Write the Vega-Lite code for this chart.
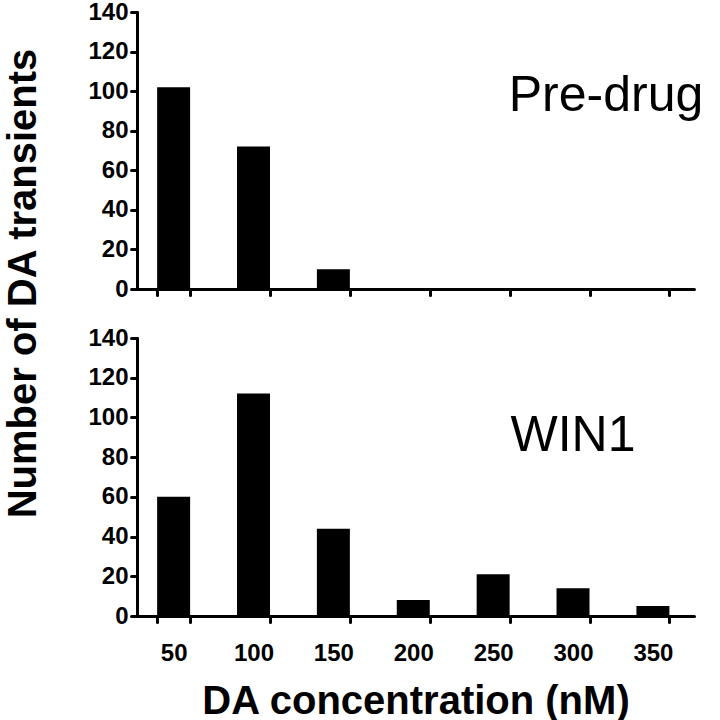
{
  "$schema": "https://vega.github.io/schema/vega-lite/v6.json",
  "background": "white",
  "padding": {"left": 3, "top": 0, "right": 0, "bottom": 0},
  "bounds": "flush",
  "spacing": 49,
  "config": {
    "view": {"stroke": null},
    "font": "Liberation Sans",
    "axis": {
      "grid": false,
      "domainColor": "black",
      "domainWidth": 3,
      "domainCap": "round",
      "tickColor": "black",
      "tickWidth": 3,
      "tickSize": 6,
      "tickCap": "round",
      "labelFont": "Liberation Sans",
      "labelFontWeight": "bold",
      "labelFontSize": 24,
      "labelColor": "black",
      "titleFont": "Liberation Sans",
      "titleFontWeight": "bold",
      "titleFontSize": 40,
      "titleColor": "black"
    }
  },
  "datasets": {
    "bars": [
      {"panel": "Pre-drug", "conc": 50, "count": 102},
      {"panel": "Pre-drug", "conc": 100, "count": 72},
      {"panel": "Pre-drug", "conc": 150, "count": 10},
      {"panel": "Pre-drug", "conc": 200, "count": 0},
      {"panel": "Pre-drug", "conc": 250, "count": 0},
      {"panel": "Pre-drug", "conc": 300, "count": 0},
      {"panel": "Pre-drug", "conc": 350, "count": 0},
      {"panel": "WIN1", "conc": 50, "count": 60},
      {"panel": "WIN1", "conc": 100, "count": 112},
      {"panel": "WIN1", "conc": 150, "count": 44},
      {"panel": "WIN1", "conc": 200, "count": 8},
      {"panel": "WIN1", "conc": 250, "count": 21},
      {"panel": "WIN1", "conc": 300, "count": 14},
      {"panel": "WIN1", "conc": 350, "count": 5}
    ],
    "labels": [
      {"panel": "Pre-drug", "conc": 300, "count": 90, "label": "Pre-drug"},
      {"panel": "WIN1", "conc": 300, "count": 83, "label": "WIN1"}
    ]
  },
  "vconcat": [
    {
      "width": 557,
      "height": 277,
      "encoding": {
        "x": {"field": "conc", "type": "ordinal",
              "scale": {"paddingInner": 0.587, "paddingOuter": 0.28, "align": 0.45},
              "axis": {"labels": false, "title": null, "tickBand": "extent"}},
        "y": {"field": "count", "type": "quantitative",
              "scale": {"domain": [0, 140], "nice": false},
              "axis": {"values": [0, 20, 40, 60, 80, 100, 120, 140], "title": null, "labelPadding": 3, "labelOverlap": false, "labelBound": false, "labelFlush": false}}
      },
      "layer": [
        {
          "data": {"name": "bars"},
          "transform": [{"filter": "datum.panel === 'Pre-drug'"}],
          "mark": {"type": "bar", "color": "black"}
        },
        {
          "data": {"name": "labels"},
          "transform": [{"filter": "datum.panel === 'Pre-drug'"}],
          "mark": {"type": "text", "fontSize": 50, "font": "Liberation Sans", "color": "black", "baseline": "alphabetic", "align": "center", "dx": 33},
          "encoding": {"text": {"field": "label"}}
        }
      ]
    },
    {
      "width": 557,
      "height": 278,
      "encoding": {
        "x": {"field": "conc", "type": "ordinal",
              "scale": {"paddingInner": 0.587, "paddingOuter": 0.28, "align": 0.45},
              "axis": {"title": "DA concentration (nM)", "labelAngle": 0, "tickBand": "extent", "labelPadding": 19, "titlePadding": 16, "labelOverlap": false}},
        "y": {"field": "count", "type": "quantitative",
              "scale": {"domain": [0, 140], "nice": false},
              "axis": {"values": [0, 20, 40, 60, 80, 100, 120, 140], "title": "Number of DA transients", "labelPadding": 3, "labelOverlap": false, "labelBound": false, "labelFlush": false, "titleX": -94, "titleY": -55}}
      },
      "layer": [
        {
          "data": {"name": "bars"},
          "transform": [{"filter": "datum.panel === 'WIN1'"}],
          "mark": {"type": "bar", "color": "black"}
        },
        {
          "data": {"name": "labels"},
          "transform": [{"filter": "datum.panel === 'WIN1'"}],
          "mark": {"type": "text", "fontSize": 50, "font": "Liberation Sans", "color": "black", "baseline": "alphabetic", "align": "center"},
          "encoding": {"text": {"field": "label"}}
        }
      ]
    }
  ]
}
